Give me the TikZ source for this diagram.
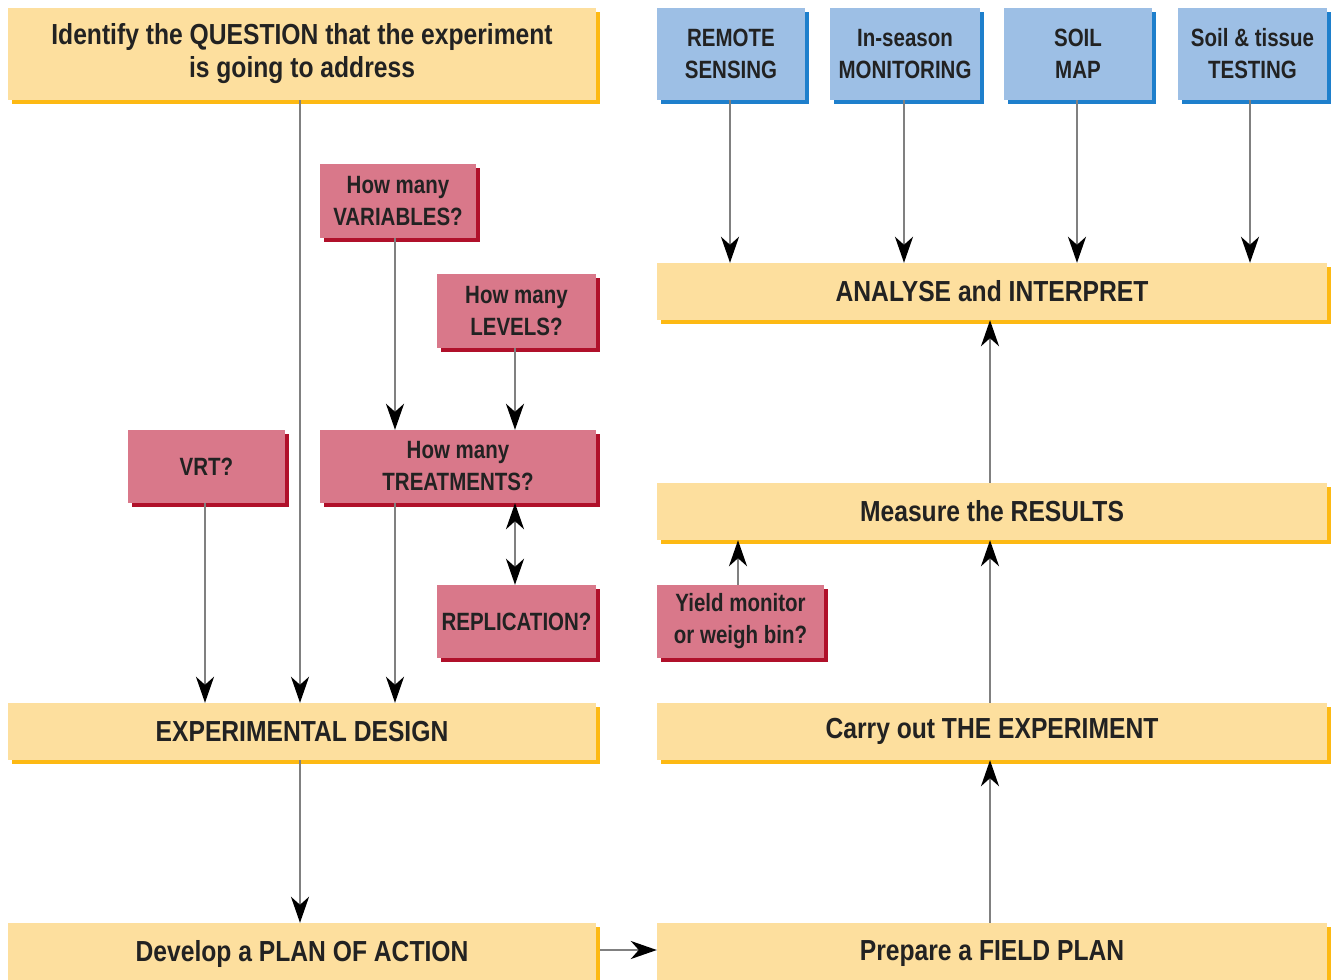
\documentclass[tikz,border=0pt]{standalone}
\usepackage{fontspec}
\setmainfont{Liberation Sans}[FakeStretch=0.85]
\newfontfamily\smallfam{Liberation Sans}[FakeStretch=0.82]
\usetikzlibrary{arrows.meta,shadows}
\definecolor{yfill}{HTML}{FDDF9E}
\definecolor{yshad}{HTML}{FDB913}
\definecolor{bfill}{HTML}{9DBFE5}
\definecolor{bshad}{HTML}{1E7FCC}
\definecolor{pfill}{HTML}{D9788A}
\definecolor{pshad}{HTML}{B0102A}
\definecolor{txt}{HTML}{222222}
\definecolor{lin}{HTML}{808080}
\tikzset{
  box/.style={inner sep=0pt, align=center, text=txt,
    font=\fontsize{29}{33}\selectfont\bfseries},
  sbox/.style={box, font=\smallfam\fontsize{25}{32}\selectfont\bfseries},
  ybox/.style={box, fill=yfill, drop shadow={shadow xshift=4pt, shadow yshift=-4pt, fill=yshad, opacity=1}},
  bbox/.style={sbox, fill=bfill, drop shadow={shadow xshift=4pt, shadow yshift=-4pt, fill=bshad, opacity=1}},
  pbox/.style={sbox, fill=pfill, drop shadow={shadow xshift=4pt, shadow yshift=-4pt, fill=pshad, opacity=1}},
  tip/.tip={Stealth[length=26pt,width=18pt,inset=8pt,black]},
  arr/.style={draw=lin, line width=2.5pt, -tip},
  darr/.style={draw=lin, line width=2.5pt, tip-tip},
}
\newcommand{\bx}[7]{% style name x1 y1 x2 y2 text
  \node[#1, minimum width={(#5-#3)*1pt}, minimum height={(#6-#4)*1pt}] (#2) at ({(#3+#5)/2},{(#4+#6)/2}) {#7};}
\begin{document}
\begin{tikzpicture}[x=1pt,y=-1pt]
\useasboundingbox (0,0) rectangle (1331,980);
\clip (0,0) rectangle (1331,980);
\fill[white] (0,0) rectangle (1331,980);
\bx{ybox}{q}{8}{8}{596}{100}{Identify the QUESTION that the experiment\\is going to address}
\bx{bbox}{rs}{657}{8}{805}{100}{REMOTE\\SENSING}
\bx{bbox}{im}{830}{8}{980}{100}{In-season\\MONITORING}
\bx{bbox}{sm}{1004}{8}{1152}{100}{SOIL\\MAP}
\bx{bbox}{st}{1178}{8}{1327}{100}{Soil \& tissue\\TESTING}
\bx{ybox}{an}{657}{263}{1327}{320}{ANALYSE and INTERPRET}
\bx{pbox}{var}{320}{164}{476}{238}{How many\\VARIABLES?}
\bx{pbox}{lev}{437}{274}{596}{348}{How many\\LEVELS?}
\bx{pbox}{vrt}{128}{430}{285}{503}{VRT?}
\bx{pbox}{tr}{320}{430}{596}{503}{How many\\TREATMENTS?}
\bx{pbox}{rep}{437}{585}{596}{658}{REPLICATION?}
\bx{pbox}{yl}{657}{585}{824}{658}{Yield monitor\\or weigh bin?}
\bx{ybox}{me}{657}{483}{1327}{540}{Measure the RESULTS}
\bx{ybox}{ed}{8}{703}{596}{760}{EXPERIMENTAL DESIGN}
\bx{ybox}{co}{657}{703}{1327}{760}{Carry out THE EXPERIMENT}
\bx{ybox}{pl}{8}{923}{596}{984}{Develop a PLAN OF ACTION}
\bx{ybox}{fp}{657}{923}{1327}{984}{Prepare a FIELD PLAN}
% connectors
\draw[arr] (q.south -| 300,0) -- (ed.north -| 300,0);
\draw[arr] (var.south -| 395,0) -- (tr.north -| 395,0);
\draw[arr] (lev.south -| 515,0) -- (tr.north -| 515,0);
\draw[arr] (vrt.south -| 205,0) -- (ed.north -| 205,0);
\draw[arr] (tr.south -| 395,0) -- (ed.north -| 395,0);
\draw[darr] (tr.south -| 515,0) -- (rep.north -| 515,0);
\draw[arr] (ed.south -| 300,0) -- (pl.north -| 300,0);
\draw[arr] (pl.east |- 0,950) ++(4,0) -- (fp.west |- 0,950);
\draw[arr] (fp.north -| 990,0) -- (co.south -| 990,0);
\draw[arr] (co.north -| 990,0) -- (me.south -| 990,0);
\draw[arr] (me.north -| 990,0) -- (an.south -| 990,0);
\draw[arr] (yl.north -| 738,0) -- (me.south -| 738,0);
\draw[arr] (rs.south -| 730,0) -- (an.north -| 730,0);
\draw[arr] (im.south -| 904,0) -- (an.north -| 904,0);
\draw[arr] (sm.south -| 1077,0) -- (an.north -| 1077,0);
\draw[arr] (st.south -| 1250,0) -- (an.north -| 1250,0);
\end{tikzpicture}
\end{document}
